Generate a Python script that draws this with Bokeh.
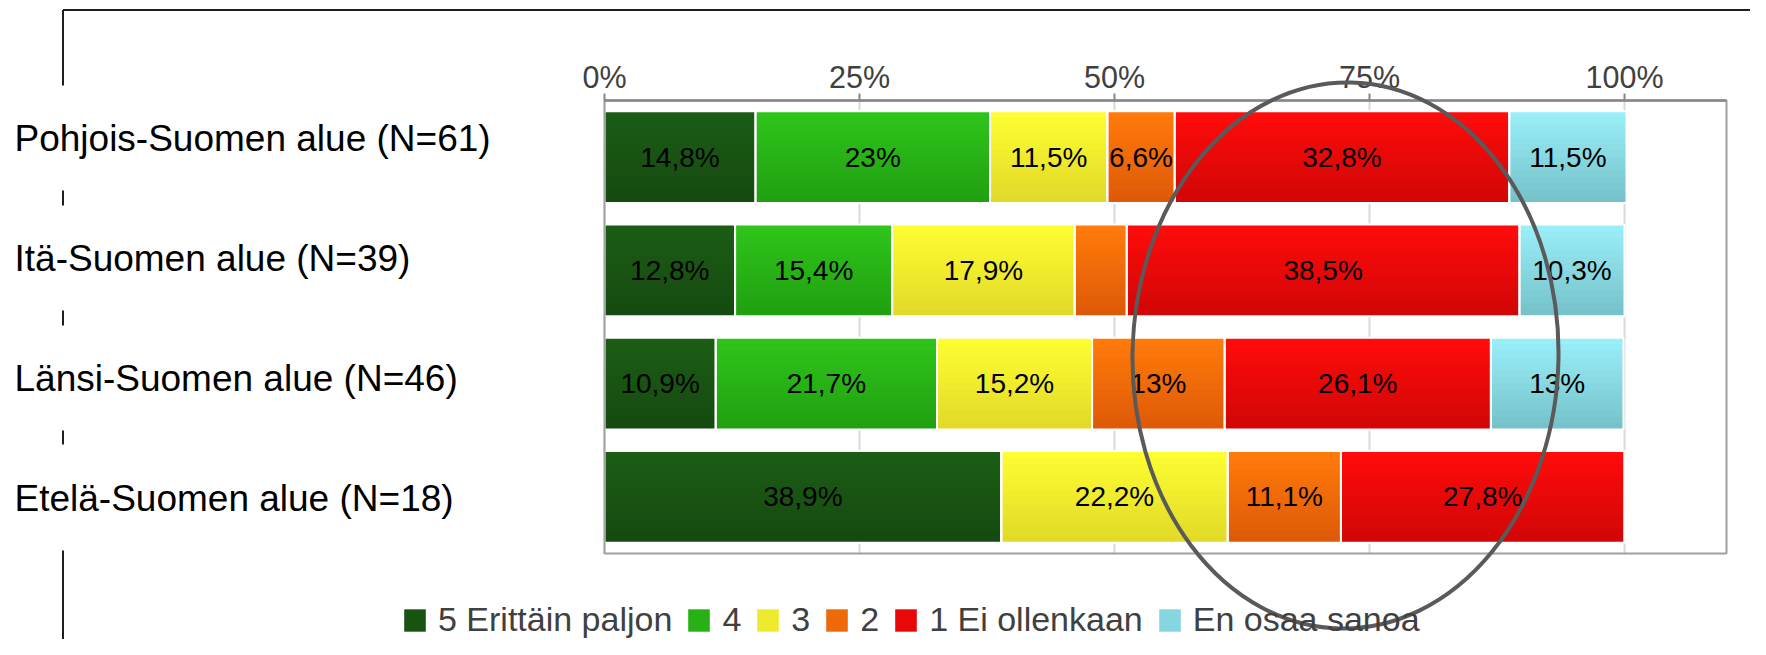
import numpy as np
from bokeh.plotting import figure
from bokeh.models import ColumnDataSource, Range1d, Legend, LegendItem
from bokeh.core.properties import value
from bokeh.embed import file_html
from bokeh.resources import INLINE

# ---------------- data ----------------
regions = ["Pohjois-Suomen alue (N=61)", "Itä-Suomen alue (N=39)",
           "Länsi-Suomen alue (N=46)", "Etelä-Suomen alue (N=18)"]
series = ["5 Erittäin paljon", "4", "3", "2", "1 Ei ollenkaan", "En osaa sanoa"]
v5 = [14.8, 12.8, 10.9, 38.9]
v4 = [23.0, 15.4, 21.7, 0.0]
v3 = [11.5, 17.9, 15.2, 22.2]
v2 = [6.6, 5.1, 13.0, 11.1]
v1 = [32.8, 38.5, 26.1, 27.8]
v0 = [11.5, 10.3, 13.0, 0.0]
# which segments carry a printed value label
lab5 = [True, True, True, True]
lab4 = [True, True, True, False]
lab3 = [True, True, True, True]
lab2 = [True, False, True, True]
lab1 = [True, True, True, True]
lab0 = [True, True, True, False]
tick_values = [0, 25, 50, 75, 100]
tick_labels = ["0%", "25%", "50%", "75%", "100%"]
# vertical gradient of each series: top colour, bottom colour
top_colors = ["#1c5d15", "#2ec41a", "#fdfd32", "#ff7a0a", "#ff0b0b", "#99eef8"]
bot_colors = ["#154a10", "#21a011", "#e2da28", "#de5a08", "#d20606", "#76c2ca"]

all_vals = [v5, v4, v3, v2, v1, v0]
all_labs = [lab5, lab4, lab3, lab2, lab1, lab0]
keys = ["s5", "s4", "s3", "s2", "s1", "s0"]

# ---------------- layout constants (pixels) ----------------
W, H = 1750, 639
PX0 = 604.0      # pixel column of 0 %
PXS = 10.2       # pixels per 1 %
PY_TOP = 100.0   # pixel row of the plot area's top edge
ROW = 113.25     # pixels per category row
XMAX = 110       # right edge of plot area (%)
BAR_H = 0.81     # bar thickness (category units)
BANDS = 14       # gradient steps
FONT = "Liberation Sans"
n = len(regions)

def px2x(px):
    return (px - PX0) / PXS

def py2y(py):
    return n - (py - PY_TOP) / ROW

def mix(c1, c2, t):
    a = [int(c1[i:i + 2], 16) for i in (1, 3, 5)]
    b = [int(c2[i:i + 2], 16) for i in (1, 3, 5)]
    return "#" + "".join(f"{round(x + (y - x) * t):02x}" for x, y in zip(a, b))

ypos = [n - 0.5 - i for i in range(n)]

src = ColumnDataSource(dict(region=regions, ypos=ypos,
                            **{k: v for k, v in zip(keys, all_vals)}))

def fmt(v):
    return f"{v:g}".replace(".", ",") + "%"

tx, ty, tt = [], [], []
cum = [0.0] * n
for vals, labs in zip(all_vals, all_labs):
    for i, v in enumerate(vals):
        if v > 0 and labs[i]:
            tx.append(cum[i] + v / 2)
            ty.append(ypos[i])
            tt.append(fmt(v))
        cum[i] += v
tsrc = ColumnDataSource(dict(x=tx, y=ty, text=tt))

# ---------------- figure ----------------
p = figure(width=W, height=H, output_backend="svg", toolbar_location=None,
           x_range=Range1d(px2x(0), px2x(W)), y_range=Range1d(py2y(H), py2y(0)),
           x_axis_location=None, y_axis_location=None,
           min_border=0, min_border_left=0, min_border_right=0,
           min_border_top=0, min_border_bottom=0)
p.background_fill_color = "white"
p.border_fill_color = "white"
p.outline_line_color = None
p.xgrid.grid_line_color = None
p.ygrid.grid_line_color = None

# vertical gridlines
p.segment(x0=tick_values, y0=[0] * len(tick_values), x1=tick_values,
          y1=[n] * len(tick_values), line_color="#d9d9d9", line_width=2)

# stacked bars with vertical gradient: each band runs from its top edge
# down to the bar bottom, later bands cover the lower part
step = BAR_H / BANDS
legend_rends = None
for k in range(BANDS):
    t = k / (BANDS - 1)
    src.data[f"yb{k}"] = [y - k * step / 2 for y in ypos]
    rends = p.hbar_stack(keys, y=f"yb{k}", height=BAR_H - k * step,
                         color=[mix(a, b, t) for a, b in zip(top_colors, bot_colors)],
                         line_color=None, source=src)
    if k == BANDS // 2:
        legend_rends = rends
# white separators
p.hbar_stack(keys, y="ypos", height=BAR_H, fill_alpha=0, line_color="white",
             line_width=2, source=src)

# plot-area border
p.quad(left=[0], right=[XMAX], bottom=[0], top=[n], fill_alpha=0,
       line_color="#a0a0a0", line_width=2)

# top axis line, ticks and tick labels
p.segment(x0=[0], y0=[n], x1=[XMAX], y1=[n], line_color="#868686", line_width=2.5)
tick_len = 7 / ROW
p.segment(x0=tick_values, y0=[n] * len(tick_values), x1=tick_values,
          y1=[n + tick_len] * len(tick_values), line_color="#868686", line_width=2)
p.text(x=tick_values, y=[py2y(76)] * len(tick_values), text=tick_labels,
       text_align="center", text_baseline="alphabetic", text_font=value(FONT),
       text_font_size="30.5px", text_color="#404040")

# value labels in bars
p.text(x="x", y="y", text="text", source=tsrc, text_align="center",
       text_baseline="middle", text_font=value(FONT), text_font_size="28px",
       text_color="black")

# region labels (left aligned)
label_py = [138 + i * 120 for i in range(n)]
p.text(x=[px2x(14)] * n, y=[py2y(v) for v in label_py], text=regions,
       text_align="left", text_baseline="middle", text_font=value(FONT),
       text_font_size="37px", text_color="black")

# highlight ellipse
p.ellipse(x=[px2x(1345)], y=[py2y(355)], width=[426 / PXS], height=[546 / ROW],
          angle=-0.02, fill_alpha=0, line_color="#5a5a5a", line_width=4)

# outer frame fragments
fx = px2x(62.5)
fy = py2y(9.5)
p.segment(x0=[fx], y0=[fy], x1=[px2x(W + 20)], y1=[fy], line_color="#1e1e1e", line_width=2)
vsegs = [(9.5, 85), (190, 205), (310, 325), (430, 444), (550, H + 20)]
p.segment(x0=[fx] * len(vsegs), y0=[py2y(a) for a, b in vsegs],
          x1=[fx] * len(vsegs), y1=[py2y(b) for a, b in vsegs],
          line_color="#1e1e1e", line_width=2)

# legend
lg = Legend(items=[LegendItem(label=s, renderers=[r]) for s, r in zip(series, legend_rends)],
            orientation="horizontal", location=(401, 0))
lg.label_text_font = FONT
lg.label_text_font_size = "34px"
lg.label_text_color = "#404040"
lg.glyph_width = 27
lg.glyph_height = 28
lg.label_width = 10
lg.label_standoff = 10
lg.spacing = 13
lg.padding = 0
lg.margin = 0
lg.border_line_color = None
lg.background_fill_alpha = 0
p.add_layout(lg)

open("out.html", "w").write(file_html(p, INLINE))
